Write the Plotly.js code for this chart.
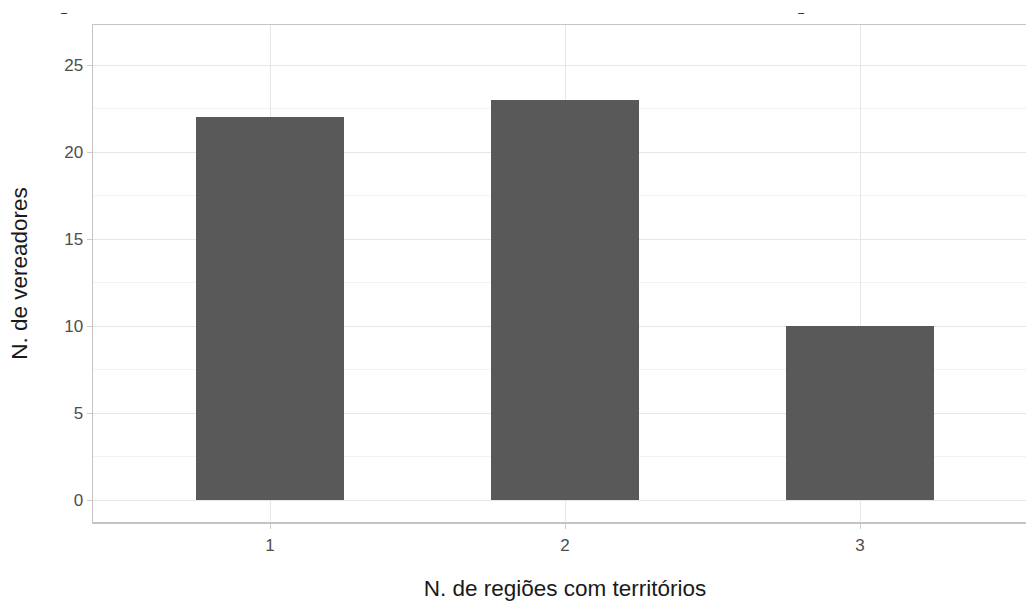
<!DOCTYPE html>
<html>
<head>
<meta charset="utf-8">
<script src="https://cdn.plot.ly/plotly-3.0.1.min.js"></script>
<style>
html,body{margin:0;padding:0;overflow:hidden;background:#fff;}
#chart{width:1045px;height:601px;}
</style>
</head>
<body>
<div id="chart"></div>
<script>
const categories = [1, 2, 3];
const vereadores = [22, 23, 10];
const yTicks = [0, 5, 10, 15, 20, 25];
const xTitle = "N. de regiões com territórios";
const yTitle = "N. de vereadores";

const trace = {
  type: 'bar',
  x: categories,
  y: vereadores,
  width: 0.5,
  marker: {color: '#595959', line: {width: 0}},
  hoverinfo: 'x+y'
};

const layout = {
  width: 1045,
  height: 601,
  margin: {l: 93, r: 8, t: 25, b: 79},
  paper_bgcolor: '#ffffff',
  plot_bgcolor: '#ffffff',
  font: {family: 'Liberation Sans, Arial, sans-serif', color: '#4d4d4d'},
  showlegend: false,
  bargap: 0,
  xaxis: {
    range: [0.4, 3.6],
    tickvals: categories,
    ticktext: categories.map(String),
    showgrid: true,
    gridcolor: '#e6e6e6',
    gridwidth: 1,
    zeroline: false,
    showline: true,
    mirror: true,
    linecolor: '#c4c4c4',
    linewidth: 1.5,
    ticks: 'outside',
    ticklen: 5,
    tickcolor: '#cccccc',
    ticklabelstandoff: 2,
    tickfont: {size: 17, color: '#4d4d4d'},
    title: {text: xTitle, font: {size: 22.5, color: '#1a1a1a'}, standoff: 26}
  },
  yaxis: {
    range: [-1.26, 27.3],
    tickvals: yTicks,
    showgrid: true,
    gridcolor: '#e6e6e6',
    gridwidth: 1,
    minor: {dtick: 2.5, tick0: 2.5, showgrid: true, gridcolor: '#f2f2f2', gridwidth: 1, ticks: ''},
    zeroline: false,
    showline: true,
    mirror: true,
    linecolor: '#c4c4c4',
    linewidth: 1.5,
    ticks: 'outside',
    ticklen: 5,
    tickcolor: '#cccccc',
    tickfont: {size: 17, color: '#4d4d4d'},
    title: {text: yTitle, font: {size: 22.5, color: '#1a1a1a'}, standoff: 30}
  },
  annotations: [
    {xref: 'paper', yref: 'paper', x: -0.0307, y: 1.026, text: '–', showarrow: false, font: {size: 11, color: '#000'}, xanchor: 'center', yanchor: 'middle'},
    {xref: 'paper', yref: 'paper', x: 0.751, y: 1.026, text: '–', showarrow: false, font: {size: 11, color: '#000'}, xanchor: 'center', yanchor: 'middle'}
  ]
};

Plotly.newPlot('chart', [trace], layout, {displayModeBar: false, staticPlot: true});
</script>
</body>
</html>
